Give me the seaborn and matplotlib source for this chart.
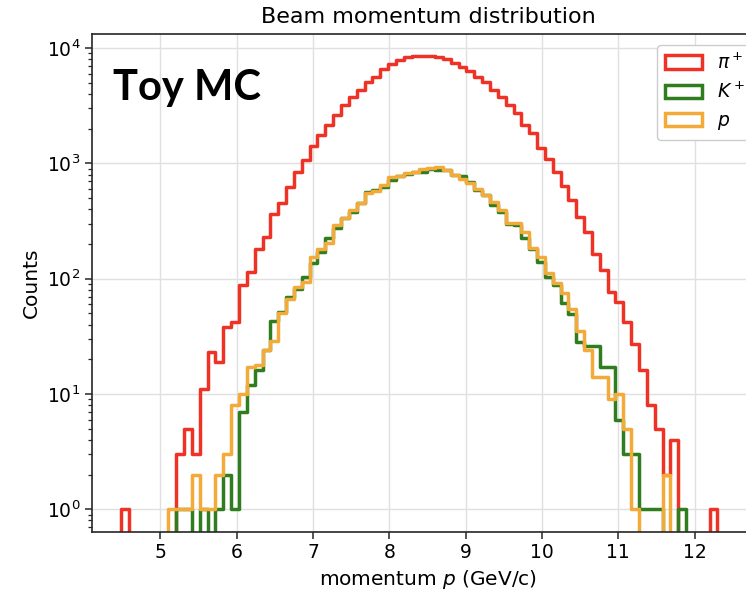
import numpy as np
import pandas as pd
import matplotlib
matplotlib.use("Agg")
import matplotlib.pyplot as plt
import matplotlib.patches as mpatches
import seaborn as sns

# common binning: 76 equal bins over the momentum range (GeV/c)
p_min, p_max, n_bins = 4.49, 12.30, 76

# counts per bin (log scale)
pi_counts = [
    1, 0, 0, 0, 0, 0, 0, 3, 5, 3,
    11, 23, 19, 38, 42, 88, 115, 180, 229, 364,
    451, 628, 847, 1071, 1416, 1763, 2153, 2630, 3214, 3788,
    4334, 5117, 5650, 6600, 7300, 7850, 8300, 8500, 8560, 8520,
    8400, 8000, 7380, 6900, 6370, 5650, 5115, 4330, 3790, 3215,
    2720, 2153, 1824, 1352, 1100, 835, 640, 482, 340, 252,
    165, 118, 76, 63, 42, 27, 16, 8, 5, 2,
    4, 0, 0, 0, 0, 1,
]
k_counts = [
    0, 0, 0, 0, 0, 0, 0, 1, 1, 0,
    1, 0, 1, 2, 1, 7, 12, 16, 24, 43,
    51, 69, 82, 104, 138, 171, 226, 277, 334, 381,
    456, 560, 590, 630, 720, 770, 815, 835, 840, 895,
    877, 880, 800, 770, 690, 588, 530, 436, 381, 300,
    290, 224, 180, 140, 104, 88, 61, 49, 28, 26,
    26, 17, 17, 6, 3, 3, 1, 1, 1, 0,
    0, 1, 0, 0, 0, 0,
]
p_counts = [
    0, 0, 0, 0, 0, 0, 1, 1, 1, 2,
    1, 1, 2, 3, 8, 10, 17, 18, 24, 29,
    50, 67, 84, 94, 153, 180, 205, 292, 334, 394,
    456, 550, 580, 650, 758, 780, 832, 835, 889, 907,
    936, 880, 794, 728, 672, 596, 532, 465, 394, 302,
    302, 256, 184, 155, 111, 91, 75, 55, 35, 24,
    14, 14, 9, 10, 5, 1, 0, 0, 0, 2,
    0, 0, 0, 0, 0, 0,
]

labels = ["$\\pi^+$", "$K^+$", "$p$"]
colors = ["#ee3326", "#2f7d1f", "#f4aa38"]

sns.set_theme(style="ticks")
plt.rcParams["font.family"] = ["DejaVu Sans"]
plt.rcParams["mathtext.fontset"] = "dejavusans"
plt.rcParams["text.color"] = "black"
plt.rcParams["axes.labelcolor"] = "black"

width = (p_max - p_min) / n_bins
edges = np.linspace(p_min, p_max, n_bins + 1)
centers = 0.5 * (edges[:-1] + edges[1:])
# one empty bin on each side so the outer edges drop to the axis like plt.hist
centers = np.r_[centers[0] - width, centers, centers[-1] + width]

fig = plt.figure(figsize=(7.46, 5.9), dpi=100)
# axes runs a bit past the right edge, like the cropped original
ax = fig.add_axes([92 / 746, 58.5 / 590, 672 / 746, 497.5 / 590])

for counts, color in zip([pi_counts, k_counts, p_counts], colors):
    df = pd.DataFrame({"momentum": centers, "n": np.r_[0, counts, 0]})
    sns.histplot(data=df, x="momentum", weights="n", bins=n_bins + 2,
                 binrange=(p_min - width, p_max + width), element="step",
                 fill=False, color=color, linewidth=2.5, ax=ax)

ax.set_yscale("log")
ax.set_ylim(0.642, 13250)
ax.set_xlim(4.105, 12.91)
ax.set_xticks(range(5, 13))

ax.grid(True, which="major", color="#e0e0e0", linewidth=1.0)
ax.set_axisbelow(True)
for s in ax.spines.values():
    s.set_color("#262626")
    s.set_linewidth(1.2)
ax.tick_params(axis="both", which="major", labelsize=13.5, length=5,
               width=1.1, color="#262626", labelcolor="black")
ax.tick_params(axis="y", which="minor", length=3, width=0.9, color="#262626")

ax.set_title("Beam momentum distribution", fontsize=16, pad=8)
ax.set_xlabel("momentum $p$ (GeV/c)", fontsize=14.5)
ax.set_ylabel("Counts", fontsize=14.5)

handles = [mpatches.Patch(facecolor="none", edgecolor=c, linewidth=2.5)
           for c in colors]
ax.legend(handles, labels, loc="upper left", fontsize=13.5,
          bbox_to_anchor=(657 / 746, 1 - 45 / 590),
          bbox_transform=fig.transFigure, borderaxespad=0,
          frameon=True, fancybox=True, edgecolor="#cccccc", framealpha=1)

fig.text(113 / 746, 1 - 100 / 590, "Toy MC", family="Lato", color="black",
         fontweight="bold", fontsize=30, va="baseline", ha="left")

fig.savefig("out.png", dpi=100)
